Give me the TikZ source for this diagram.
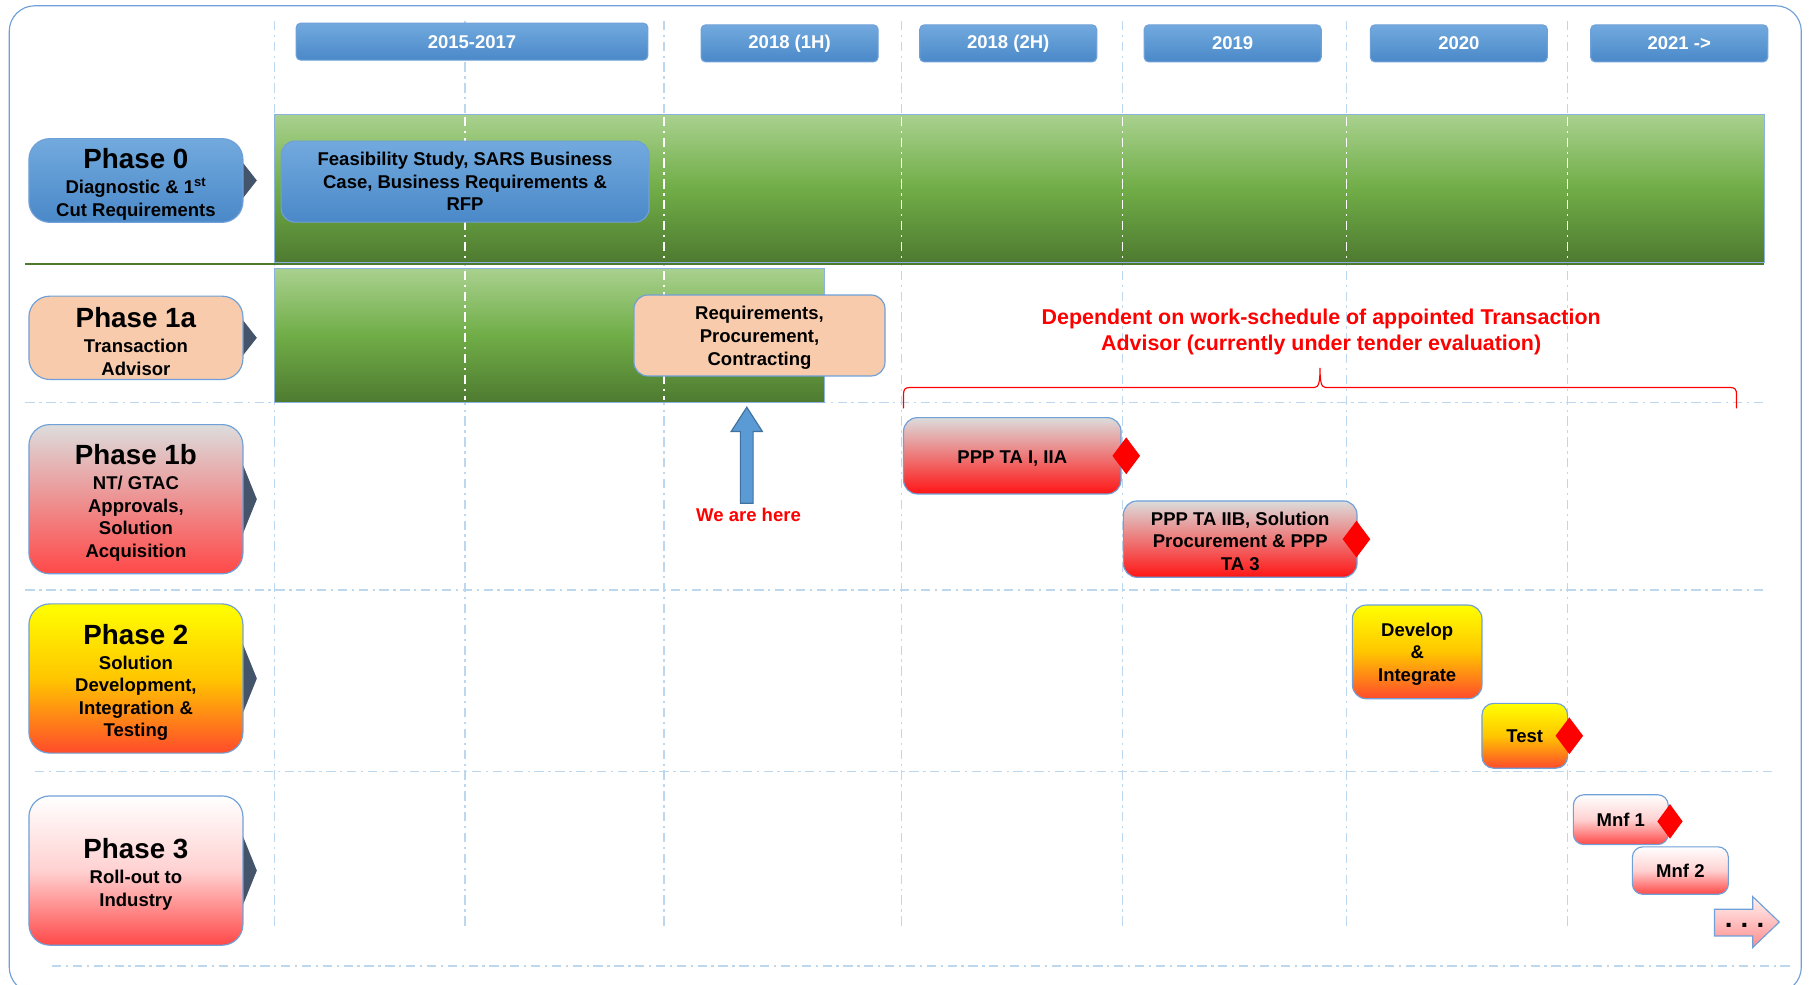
\documentclass[tikz,border=0pt]{standalone}
\usepackage{fontspec}
\setmainfont{Liberation Sans}
\usetikzlibrary{shapes.geometric}
\definecolor{frameblue}{HTML}{6FA0D8}
\definecolor{gridblue}{HTML}{BDD7EE}
\definecolor{hdtop}{HTML}{72AADE}
\definecolor{hdbot}{HTML}{4A88C8}
\definecolor{grtop}{HTML}{A9D18E}
\definecolor{grmid}{HTML}{70AD47}
\definecolor{grbot}{HTML}{4E7A30}
\definecolor{peach}{HTML}{F8CBAD}
\definecolor{chev}{HTML}{44546A}
\definecolor{lgray}{HTML}{DCDCDC}
\definecolor{oranger}{HTML}{FF4B2B}
\definecolor{pinkred}{HTML}{FF4848}
\definecolor{arrblue}{HTML}{5B9BD5}
\definecolor{arrbord}{HTML}{41719C}
\newcommand{\phtitle}[1]{\rule{0pt}{24pt}{\fontsize{24}{26}\selectfont #1}}
\newcommand{\tstrut}{\rule{0pt}{15.5pt}}
\begin{document}
\begin{tikzpicture}[x=1pt,y=-1pt,
  frame/.style={draw=frameblue, line width=1pt, rounded corners=22pt},
  grid/.style={draw=gridblue, line width=1pt, dash pattern=on 8pt off 4pt on 2pt off 4pt},
  wgrid/.style={draw=white, line width=1pt, dash pattern=on 8pt off 4pt on 2pt off 4pt},
  greenbar/.style={draw=frameblue!80, line width=0.8pt, top color=grtop, bottom color=grbot, middle color=grmid},
  box/.style={draw=frameblue, line width=1pt, rounded corners=12pt, align=center,
    font=\bfseries\fontsize{16}{19.5}\selectfont, inner sep=2pt},
  header/.style={box, rounded corners=4pt, text=white, top color=hdtop, bottom color=hdbot,
    minimum height=32pt},
  phasebox/.style={box, rounded corners=18pt, minimum width=185pt},
  bluegrad/.style={top color=hdtop, bottom color=hdbot},
  graygrad/.style={top color=lgray, bottom color=red!92},
  pgrad/.style={top color=lgray, bottom color=pinkred},
  yellgrad/.style={top color=yellow, bottom color=oranger, middle color=yellow!55!orange},
  whitegrad/.style={top color=white, bottom color=pinkred, middle color=red!18},
  milestone/.style={diamond, fill=red, inner sep=0pt, minimum width=24pt, minimum height=32pt}
]
\useasboundingbox (0,0) rectangle (1568,851);
% outer frame
\draw[frame] (8,5) rectangle (1557,858);
% vertical grid
\foreach \x in {237,402,574,779,970,1164,1355}
  \draw[grid] (\x,18) -- (\x,800);
% horizontal grid
\draw[grid] (22,348) -- (1525,348);
\draw[grid] (22,510) -- (1525,510);
\draw[grid] (30,667) -- (1532,667);
\draw[grid] (45,835) -- (1548,835);
% green bars
\draw[greenbar] (237,99) rectangle (1525,227);
\draw[greenbar] (237,232) rectangle (713,348);
\foreach \x in {402,574,779,970,1164,1355}
  \draw[wgrid] (\x,101) -- (\x,225);
\foreach \x in {402,574}
  \draw[wgrid] (\x,234) -- (\x,346);
\draw[draw=grbot, line width=1.5pt] (22,228.5) -- (1525,228.5);
% headers
\node[header, minimum width=304pt] (h1) at (408,36) {2015-2017};
\node[header, minimum width=153pt] (h2) at (682.5,37.5) {2018 (1H)};
\node[header, minimum width=153pt] (h3) at (871.5,37.5) {2018 (2H)};
\node[header, minimum width=153pt] (h4) at (1065.5,37.5) {2019};
\node[header, minimum width=153pt] (h5) at (1261,37.5) {2020};
\node[header, minimum width=153pt] (h6) at (1451.5,37.5) {2021 ->};
% phase chevrons
\fill[chev] (200,128) -- (222,156) -- (200,184) -- cycle;
\fill[chev] (200,264) -- (222,292) -- (200,320) -- cycle;
\fill[chev] (200,377) -- (222,431.5) -- (200,486) -- cycle;
\fill[chev] (200,532) -- (222,586.5) -- (200,641) -- cycle;
\fill[chev] (200,698) -- (222,752.5) -- (200,807) -- cycle;
% phase boxes
\node[phasebox, bluegrad, minimum height=72pt] (p0) at (117.5,156)
  {\phtitle{Phase 0}\\[2pt] Diagnostic \& 1\textsuperscript{st}\\ Cut Requirements};
\node[phasebox, fill=peach, minimum height=72pt] (p1a) at (117.5,292)
  {\phtitle{Phase 1a}\\[2pt] Transaction\\ Advisor};
\node[phasebox, pgrad, minimum height=129pt] (p1b) at (117.5,431.5)
  {\phtitle{Phase 1b}\\[2pt] NT/ GTAC\\ Approvals,\\ Solution\\ Acquisition};
\node[phasebox, yellgrad, minimum height=129pt] (p2) at (117.5,586.5)
  {\phtitle{Phase 2}\\[2pt] Solution\\ Development,\\ Integration \&\\ Testing};
\node[phasebox, whitegrad, minimum height=129pt] (p3) at (117.5,752.5)
  {\phtitle{Phase 3}\\[2pt] Roll-out to\\ Industry};
% task boxes
\node[box, bluegrad, minimum width=318pt, minimum height=70pt] (feas) at (402,157)
  {Feasibility Study, SARS Business\\ Case, Business Requirements \&\\ RFP};
\node[box, fill=peach, minimum width=217pt, minimum height=70pt] (req) at (656.5,290)
  {\tstrut Requirements,\\ Procurement,\\ Contracting};
\node[box, graygrad, minimum width=188pt, minimum height=66pt] (ta1) at (875,394)
  {\tstrut PPP TA I, IIA};
\node[box, graygrad, minimum width=202pt, minimum height=66pt] (ta2) at (1072,466)
  {\tstrut PPP TA IIB, Solution\\ Procurement \& PPP\\ TA 3};
\node[box, yellgrad, minimum width=112pt, minimum height=81pt] (dev) at (1225,563.5)
  {\tstrut Develop\\ \&\\ Integrate};
\node[box, yellgrad, rounded corners=10pt, minimum width=74pt, minimum height=56pt] (test) at (1318,636)
  {Test};
\node[box, whitegrad, rounded corners=9pt, minimum width=82pt, minimum height=43pt] (mnf1) at (1401,708.5)
  {Mnf 1};
\node[box, whitegrad, rounded corners=9pt, minimum width=83pt, minimum height=41pt] (mnf2) at (1452.5,752.5)
  {Mnf 2};
% milestones
\node[milestone] (m1) at ([xshift=4pt]ta1.east) {};
\node[milestone] (m2) at ([xshift=-1pt]ta2.east) {};
\node[milestone] (m3) at ([xshift=1pt]test.east) {};
\node[milestone, minimum width=22pt, minimum height=30pt] (m4) at ([xshift=1pt,yshift=-1.5pt]mnf1.east) {};
% we are here arrow
\draw[fill=arrblue, draw=arrbord, line width=1pt]
  (640,435) -- (640,373) -- (632,373) -- (645.5,352) -- (659,373) -- (651,373) -- (651,435) -- cycle;
\node[text=red, font=\bfseries\fontsize{16}{19}\selectfont] (here) at (647,445) {We are here};
% continuation arrow
\draw[draw=frameblue, line width=1pt, top color=red!5, bottom color=red!45]
  (1482,786) -- (1515,786) -- (1515,775) -- (1538,797) -- (1515,819) -- (1515,809) -- (1482,809) -- cycle;
\node[font=\bfseries\fontsize{24}{26}\selectfont, inner sep=0pt] (dots) at (1508,800) {.\hspace{7pt}.\hspace{7pt}.};
% dependency note
\node[text=red, align=center, font=\bfseries\fontsize{18.5}{22}\selectfont] (dep) at (1142,287)
  {Dependent on work-schedule of appointed Transaction\\ Advisor (currently under tender evaluation)};
\draw[red, line width=1pt]
  (781,353) -- (781,341) .. controls (781,337) and (782,335) .. (786,335) -- (1136,335)
  .. controls (1140,335) and (1141,330) .. (1141,318)
  .. controls (1141,330) and (1142,335) .. (1146,335) -- (1496,335)
  .. controls (1500,335) and (1501,337) .. (1501,341) -- (1501,353);
\end{tikzpicture}
\end{document}
